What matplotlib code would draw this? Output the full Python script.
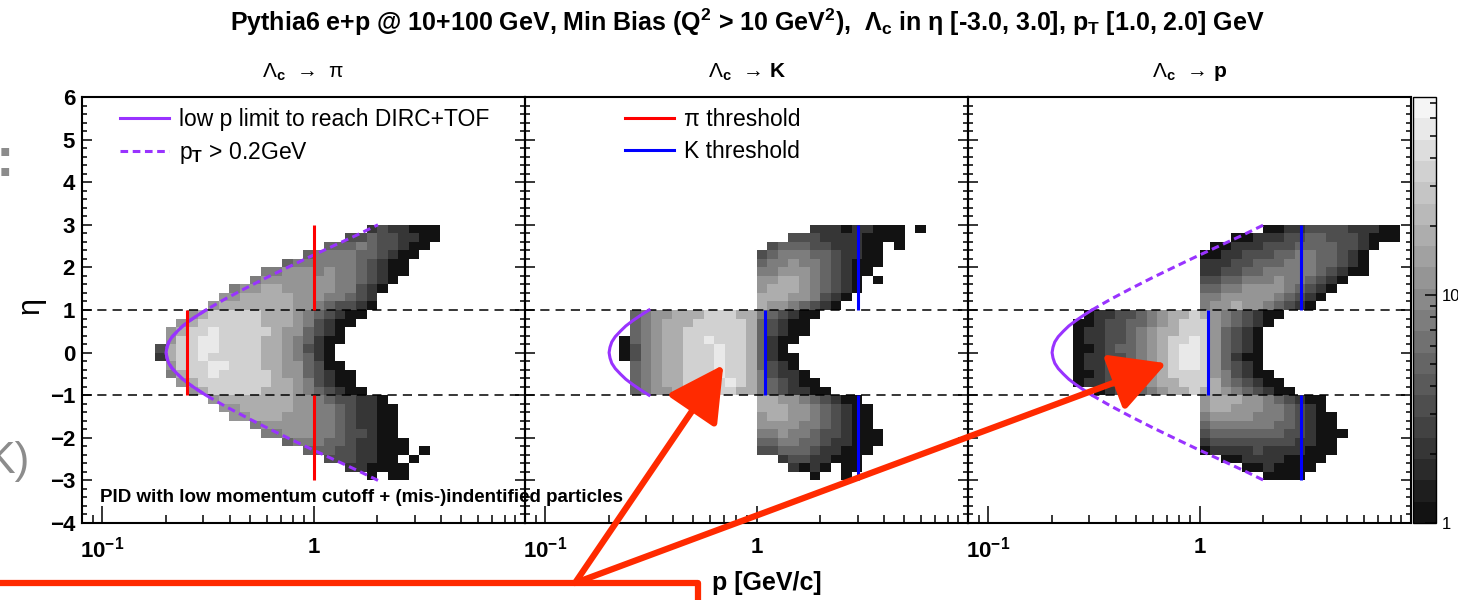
import numpy as np
import matplotlib
matplotlib.use("Agg")
import matplotlib.pyplot as plt
from matplotlib.colors import ListedColormap, LogNorm
from matplotlib.lines import Line2D
from matplotlib.ticker import FixedLocator, FixedFormatter, LogLocator, MultipleLocator, NullFormatter

plt.rcParams["font.family"] = ["Liberation Sans", "DejaVu Sans"]
plt.rcParams["font.weight"] = "bold"
plt.rcParams["mathtext.fontset"] = "custom"
plt.rcParams["mathtext.rm"] = "Liberation Sans:bold"
plt.rcParams["mathtext.it"] = "Liberation Sans:bold"
plt.rcParams["mathtext.bf"] = "Liberation Sans:bold"
plt.rcParams["mathtext.default"] = "rm"

# histogram binning: log10(p) columns, eta rows (top row first)
LOGP_EDGES = np.arange(-0.8, 1.0001, 0.05)
ETA_EDGES = np.linspace(3.0, -3.0, 31)

# gray level code -> counts
LEVEL_COUNTS = {"1": 1, "2": 2, "3": 3, "4": 5, "5": 8, "6": 13, "7": 20, "8": 32, "9": 50}

# (first p column, levels) per eta row
PI_ROWS = [
    (21, "2322111"),
    (19, "334332211"),
    (17, "4445433211"),
    (15, "45555443211"),
    (13, "455555543211"),
    (11, "55666565543211"),
    (10, "56666666554321"),
    (8, "566776666655321"),
    (7, "667777766655432"),
    (6, "6777777766543321"),
    (4, "67888887776543211"),
    (3, "67888888777653211"),
    (2, "67889888887664321"),
    (2, "68899888877654211"),
    (1, "37889988887765321"),
    (1, "27889888887765421"),
    (2, "68889988877664311"),
    (2, "578898888876643211"),
    (3, "67888888877653211"),
    (4, "67888887776543211"),
    (6, "67777777665433221"),
    (7, "66777776655432211"),
    (8, "6677766655432211"),
    (10, "56666655432211"),
    (11, "5566655433211"),
    (13, "455544322111"),
    (15, "4443322111.1"),
    (17, "3332211.1"),
    (19, "221111"),
    (21, "1.11"),
]

K_ROWS = [
    (21, "222122111.1"),
    (19, "33322221111"),
    (17, "34443322211.1"),
    (16, "345554432211"),
    (16, "455655432111"),
    (16, "55666543211"),
    (16, "6677654321.1"),
    (16, "6777654321"),
    (16, "777665321"),
    (16, "76654321"),
    (4, "456677788877543211"),
    (4, "45677788888743211"),
    (4, "45677888888743211"),
    (3, "14567788988874211"),
    (3, "1356778889887421"),
    (3, "13567788898874211"),
    (4, "4567788898874321"),
    (4, "45677888988753221"),
    (4, "456778888987543211"),
    (4, "4566778888775432211"),
    (16, "7766543211"),
    (16, "77766543211"),
    (16, "67766543211"),
    (16, "66665543211"),
    (16, "556554332111"),
    (16, "445544322111"),
    (16, "33444322111"),
    (18, "23322111"),
    (19, "2121.11"),
    (21, "1..1"),
]

P_ROWS = [
    (22, "1122333322211"),
    (19, "1122233443332111"),
    (17, "1122233344443321"),
    (16, "1122333445544321"),
    (16, "2223344455544321"),
    (16, "2233445555543211"),
    (16, "33445556554321"),
    (16, "4455666654321"),
    (16, "556666654321"),
    (16, "56676654321"),
    (5, "1223345677876543211"),
    (4, "1123344567888654321"),
    (4, "122334567788864321"),
    (4, "122334567889864321"),
    (4, "112344567899864321"),
    (4, "122334567899864211"),
    (4, "122344567899864321"),
    (4, "1123345678888653211"),
    (4, "12233456778887543211"),
    (6, "1233456778776543211"),
    (16, "677766543211"),
    (16, "677666554321"),
    (16, "5666655543211"),
    (16, "4555555443211"),
    (16, "34444444332111"),
    (16, "2333333332211"),
    (16, "1222232222111"),
    (18, "1122221111"),
    (20, "1121111"),
    (22, "1111"),
]

# low p limit curve (|eta|<1) and pT > 0.2 GeV curve (forward part)
CORE_ETA = [-1.0, -0.875, -0.75, -0.625, -0.5, -0.375, -0.25, -0.125, 0.0,
            0.125, 0.25, 0.375, 0.5, 0.625, 0.75, 0.875, 1.0]
CORE_P = [0.309, 0.282, 0.259, 0.240, 0.226, 0.214, 0.206, 0.202, 0.200,
          0.202, 0.206, 0.214, 0.226, 0.240, 0.259, 0.282, 0.309]
FWD_ETA = [1.0, 1.25, 1.5, 1.75, 2.0, 2.25, 2.5, 2.75, 3.0]
FWD_P = [0.309, 0.378, 0.471, 0.592, 0.752, 0.959, 1.232, 1.585, 2.014]

# thresholds: p value, eta from, eta to
THR_ETA_LO = [-1.0, 1.0, -3.0]
THR_ETA_HI = [1.0, 3.0, -1.0]
PI_THR_P = [0.25, 1.0, 1.0]
K_THR_P = [1.1, 3.0, 3.0]

PANEL_TITLES = ["Λ$_{c}$  →  π", "Λ$_{c}$  → $K$", "Λ$_{c}$  → $p$"]

PURPLE = "#9933ff"
ARROW_RED = "#ff2a00"


def to_matrix(rows):
    m = np.full((len(rows), len(LOGP_EDGES) - 1), np.nan)
    for i, (start, levels) in enumerate(rows):
        for k, ch in enumerate(levels):
            if ch != ".":
                m[i, start + k] = LEVEL_COUNTS[ch]
    return np.ma.masked_invalid(m)


cmap = ListedColormap([(g, g, g) for g in np.linspace(0.07, 0.96, 20)])
norm = LogNorm(vmin=1, vmax=74)

W, H = 1458, 600
fig = plt.figure(figsize=(W / 100, H / 100), dpi=100)
ax_w = 443 / W
ax_b = (H - 523) / H
ax_h = 426 / H
axes = [fig.add_axes([(82 + 443 * i) / W, ax_b, ax_w, ax_h]) for i in range(3)]
cax = fig.add_axes([1413 / W, ax_b, 23 / W, ax_h])

p_edges = 10 ** LOGP_EDGES
mesh = None
for ax, rows, title in zip(axes, [PI_ROWS, K_ROWS, P_ROWS], PANEL_TITLES):
    ax.patch.set_visible(False)
    mesh = ax.pcolormesh(p_edges, ETA_EDGES, to_matrix(rows), cmap=cmap, norm=norm,
                         shading="flat", edgecolors="none", zorder=1)
    for y in (1, -1):
        ax.axhline(y, color="black", lw=1.1, ls=(0, (6, 4)), zorder=3)
    ax.set_xscale("log")
    ax.set_xlim(0.08, 10)
    ax.set_ylim(-4, 6)
    ax.xaxis.set_major_locator(FixedLocator([0.1, 1]))
    ax.xaxis.set_major_formatter(FixedFormatter(["10$^{-1}$", "1"]))
    ax.xaxis.set_minor_locator(LogLocator(base=10, subs=np.arange(2, 10)))
    ax.xaxis.set_minor_formatter(NullFormatter())
    ax.yaxis.set_major_locator(MultipleLocator(1))
    ax.yaxis.set_minor_locator(MultipleLocator(0.2))
    ax.tick_params(which="both", direction="in", right=True, top=False, width=1.1)
    ax.tick_params(axis="x", which="major", length=12, pad=10, labelsize=16)
    ax.tick_params(axis="x", which="minor", length=6)
    ax.tick_params(axis="y", which="major", length=7, pad=5, labelsize=16)
    ax.tick_params(axis="y", which="minor", length=3.5)
    for sp in ax.spines.values():
        sp.set_linewidth(1.5)
    ax.text(0.5, 1 + 25 / 426, title, transform=ax.transAxes, ha="center", va="center",
            fontsize=15, fontweight="normal")

for ax in axes[1:]:
    ax.tick_params(axis="y", labelleft=False)

ax1, ax2, ax3 = axes
fwd_eta = np.array(FWD_ETA)
full_eta = np.concatenate([-fwd_eta[::-1], CORE_ETA, fwd_eta])
full_p = np.concatenate([FWD_P[::-1], CORE_P, FWD_P])

# panel 1: pi
ax1.plot(CORE_P, CORE_ETA, color=PURPLE, lw=2.2, zorder=4)
ax1.plot(full_p, full_eta, color=PURPLE, lw=2.2, ls=(0, (2.5, 1.5)), zorder=4)
ax1.vlines(PI_THR_P, THR_ETA_LO, THR_ETA_HI, color="red", lw=2.2, zorder=4)

# panel 2: K
ax2.plot(CORE_P, CORE_ETA, color=PURPLE, lw=2.2, zorder=4)
ax2.vlines(K_THR_P, THR_ETA_LO, THR_ETA_HI, color="blue", lw=2.2, zorder=4)

# panel 3: p
ax3.plot(CORE_P, CORE_ETA, color=PURPLE, lw=2.2, zorder=4)
ax3.plot(FWD_P, FWD_ETA, color=PURPLE, lw=2.2, ls=(0, (2.5, 1.5)), zorder=4)
ax3.plot(FWD_P, -fwd_eta, color=PURPLE, lw=2.2, ls=(0, (2.5, 1.5)), zorder=4)
ax3.vlines(K_THR_P, THR_ETA_LO, THR_ETA_HI, color="blue", lw=2.2, zorder=4)

leg_kw = dict(loc="upper left", frameon=False, handlelength=2.15, handletextpad=0.4,
              labelspacing=0.4, borderaxespad=0, prop={"weight": "normal", "size": 16.5})
ax1.legend([Line2D([], [], color=PURPLE, lw=2.2),
            Line2D([], [], color=PURPLE, lw=2.2, ls=(0, (2.5, 1.5)))],
           ["low p limit to reach DIRC+TOF", "p$_{T}$ > 0.2GeV"],
           bbox_to_anchor=(29 / 443, 1 - 2 / 426), **leg_kw)
ax2.legend([Line2D([], [], color="red", lw=2.2), Line2D([], [], color="blue", lw=2.2)],
           ["π threshold", "K threshold"],
           bbox_to_anchor=(91 / 443, 1 - 2 / 426), **leg_kw)

ax1.text(18 / 443, 26 / 426, "PID with low momentum cutoff + (mis-)indentified particles",
         transform=ax1.transAxes, fontsize=13.5, ha="left", va="center", clip_on=False, zorder=6)

# colour scale
cb = fig.colorbar(mesh, cax=cax)
cb.set_ticks([1, 10])
cb.set_ticklabels(["1", "10"])
cax.yaxis.set_minor_locator(LogLocator(base=10, subs=np.arange(2, 10)))
cax.yaxis.set_minor_formatter(NullFormatter())
cax.tick_params(which="both", direction="in", left=False, right=True, width=1.1)
cax.tick_params(which="major", length=8, labelsize=12, pad=4)
cax.tick_params(which="minor", length=4)
for lab in cax.get_yticklabels():
    lab.set_fontweight("normal")
cb.outline.set_linewidth(1.0)

# figure texts
fig.text(747 / W, 1 - 22 / H,
         "Pythia6 e+p @ 10+100 GeV, Min Bias (Q$^{2}$ > 10 GeV$^{2}$),  Λ$_{c}$ in η [-3.0, 3.0], p$_{T}$ [1.0, 2.0] GeV",
         ha="center", va="center", fontsize=18)
fig.text(30 / W, 1 - 305 / H, "η", rotation=90, ha="center", va="center", fontsize=22,
         fontweight="normal")
fig.text(712 / W, 1 - 583 / H, "p [GeV/c]", ha="left", va="center", fontsize=18)

# slide overlay in red
fig.add_artist(Line2D([0, 698 / W, 698 / W], [1 - 583 / H, 1 - 583 / H, 0],
                      transform=fig.transFigure, color=ARROW_RED, lw=4.5, zorder=10))
arrow_kw = dict(arrowstyle="-|>,head_length=1.3,head_width=0.7", color=ARROW_RED, lw=4.5,
                shrinkA=0, shrinkB=0, mutation_scale=26)
ax2.annotate("", xy=(0.695, -0.29), xycoords="data", xytext=(575 / W, 1 - 583 / H),
             textcoords="figure fraction", arrowprops=arrow_kw, annotation_clip=False, zorder=10)
ax3.annotate("", xy=(0.695, -0.25), xycoords="data", xytext=(575 / W, 1 - 583 / H),
             textcoords="figure fraction", arrowprops=arrow_kw, annotation_clip=False, zorder=10)

# cut-off slide text at the left edge
fig.text(14 / W, 1 - 162 / H, ":", ha="right", va="center", color="#8c8c8c", fontsize=40)
fig.text(30 / W, 1 - 462 / H, "K)", ha="right", va="center", color="#8c8c8c", fontsize=32,
         fontweight="normal")

fig.savefig("out.png", dpi=100)
